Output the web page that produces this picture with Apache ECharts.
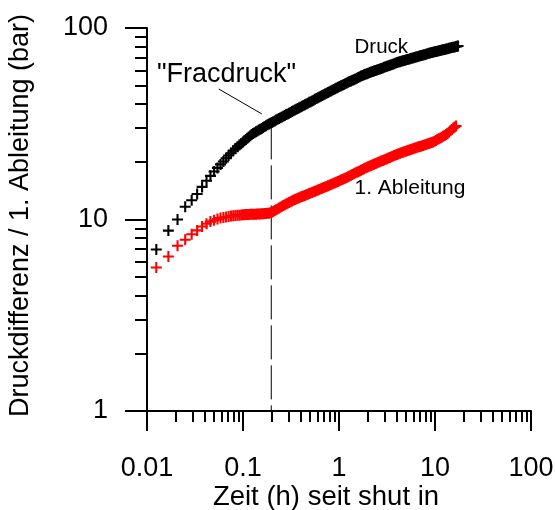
<!DOCTYPE html>
<html>
<head>
<meta charset="utf-8">
<script src="https://cdn.jsdelivr.net/npm/echarts@6/dist/echarts.min.js"></script>
<style>
html,body{margin:0;padding:0;background:#fff;}
#chart{width:555px;height:510px;}
</style>
</head>
<body>
<div id="chart"></div>
<script>
// ---- data ----
// first set of readings
const timeH = [0.0125, 0.0167, 0.0208, 0.025, 0.0292, 0.0333, 0.0375, 0.0417, 0.0458, 0.05, 0.0542, 0.0583, 0.0625, 0.0667, 0.0708, 0.075, 0.0792, 0.0833, 0.0875, 0.0917, 0.0958, 0.1,
  0.1072, 0.1148, 0.123, 0.1318, 0.1413, 0.1514, 0.1622, 0.1738, 0.1862, 0.1995, 0.2138, 0.2291, 0.2455, 0.263, 0.2818, 0.302, 0.3236, 0.3467, 0.3715, 0.3981,
  0.4266, 0.4571, 0.4898, 0.5248, 0.5623, 0.6026, 0.6457, 0.6918, 0.7413, 0.7943, 0.8511, 0.912, 0.9772, 1.047, 1.122, 1.202, 1.288, 1.38, 1.479, 1.585,
  1.698, 1.82, 1.95, 2.089, 2.239, 2.399, 2.57, 2.754, 2.951, 3.162, 3.388, 3.631, 3.89, 4.169, 4.467, 4.786, 5.129, 5.495, 5.888, 6.31, 6.761, 7.244, 7.762,
  8.318, 8.913, 9.55, 10.23, 10.96, 11.75, 12.59, 13.49, 14.45, 15.49, 16.6, 17.38];

const druck = [6.97, 8.75, 10.0, 11.66, 12.6, 13.6, 14.8, 15.95, 16.9, 17.8, 18.6, 19.4, 20.1, 20.9, 21.6, 22.2, 22.9, 23.5, 24.0, 24.5, 24.9, 25.4,
  26.2, 27.0, 27.8, 28.4, 29.0, 29.6, 30.2, 30.9, 31.5, 32.1, 32.7, 33.4, 34.0, 34.6, 35.3, 35.9, 36.6, 37.3, 38.0, 38.7,
  39.4, 40.1, 40.9, 41.6, 42.4, 43.2, 44.0, 44.8, 45.6, 46.4, 47.3, 48.1, 49.0, 49.9, 50.7, 51.6, 52.5, 53.3, 54.2, 55.1,
  56.1, 57.0, 57.7, 58.5, 59.2, 59.9, 60.7, 61.5, 62.3, 63.1, 63.9, 64.7, 65.6, 66.4, 67.0, 67.7, 68.4, 69.1, 69.8, 70.5, 71.2, 71.9, 72.6,
  73.4, 74.1, 74.7, 75.4, 76.0, 76.7, 77.3, 78.0, 78.7, 79.3, 80.0, 80.5];

const ableitung = [5.61, 6.41, 7.29, 7.84, 8.38, 8.77, 9.19, 9.51, 9.75, 9.91, 10.05, 10.17, 10.25, 10.31, 10.37, 10.42, 10.45, 10.48, 10.51, 10.53, 10.56, 10.58,
  10.62, 10.63, 10.65, 10.66, 10.67, 10.69, 10.72, 10.76, 10.79, 10.90, 11.13, 11.36, 11.60, 11.82, 12.05, 12.28, 12.51, 12.73, 12.90, 13.09,
  13.27, 13.46, 13.65, 13.85, 14.05, 14.26, 14.46, 14.68, 14.89, 15.11, 15.34, 15.57, 15.81, 16.06, 16.30, 16.59, 16.88, 17.17, 17.48, 17.78,
  18.09, 18.41, 18.73, 19.02, 19.31, 19.59, 19.88, 20.18, 20.47, 20.78, 21.09, 21.40, 21.72, 22.04, 22.34, 22.60, 22.87, 23.13, 23.40, 23.68, 23.95, 24.23, 24.51,
  24.80, 25.09, 25.38, 25.88, 26.40, 26.92, 27.46, 28.05, 29.04, 30.07, 30.8];

// second set of readings (between the first ones, where the marks are dense)
const timeH2 = [0.1035, 0.1109, 0.1189, 0.1274, 0.1365, 0.1462, 0.1567, 0.1679, 0.1799, 0.1928, 0.2065, 0.2213, 0.2371, 0.2541, 0.2723, 0.2917, 0.3126, 0.335, 0.3589, 0.3846,
  0.4121, 0.4416, 0.4732, 0.507, 0.5433, 0.5821, 0.6237, 0.6683, 0.7161, 0.7674, 0.8222, 0.881, 0.9441, 1.0116, 1.084, 1.161, 1.245, 1.334, 1.429, 1.531,
  1.641, 1.758, 1.884, 2.018, 2.163, 2.317, 2.483, 2.661, 2.851, 3.055, 3.273, 3.508, 3.758, 4.027, 4.315, 4.624, 4.955, 5.309, 5.689, 6.095,
  6.531, 6.998, 7.499, 8.035, 8.61, 9.226, 9.886, 10.59, 11.35, 12.16, 13.03, 13.96, 14.96, 16.03, 17.0];

const druck2 = [25.8, 26.6, 27.4, 28.1, 28.7, 29.3, 29.9, 30.55, 31.2, 31.8, 32.4, 33.05, 33.7, 34.3, 34.95, 35.6, 36.25, 36.95, 37.65, 38.35,
  39.05, 39.75, 40.5, 41.25, 42.0, 42.8, 43.6, 44.4, 45.2, 46.0, 46.85, 47.7, 48.55, 49.45, 50.3, 51.15, 52.05, 52.9, 53.75, 54.65,
  55.6, 56.55, 57.35, 58.1, 58.85, 59.55, 60.3, 61.1, 61.9, 62.7, 63.5, 64.3, 65.15, 66.0, 66.7, 67.35, 68.05, 68.75, 69.45, 70.15,
  70.85, 71.55, 72.25, 73.0, 73.75, 74.4, 75.05, 75.7, 76.35, 77.0, 77.65, 78.35, 79.0, 79.65, 80.25];

const ableitung2 = [10.60, 10.62, 10.64, 10.65, 10.66, 10.68, 10.70, 10.74, 10.77, 10.84, 11.01, 11.24, 11.48, 11.71, 11.93, 12.16, 12.39, 12.62, 12.81, 12.99,
  13.18, 13.36, 13.55, 13.75, 13.95, 14.15, 14.36, 14.57, 14.78, 15.0, 15.22, 15.45, 15.69, 15.93, 16.18, 16.44, 16.73, 17.02, 17.32, 17.63,
  17.93, 18.25, 18.57, 18.87, 19.16, 19.45, 19.73, 20.03, 20.32, 20.62, 20.93, 21.24, 21.56, 21.88, 22.19, 22.47, 22.73, 23.0, 23.26, 23.54,
  23.81, 24.09, 24.37, 24.65, 24.94, 25.23, 25.63, 26.14, 26.66, 27.19, 27.75, 28.54, 29.55, 30.43];

// "Fracdruck" marker (vertical dashed line) and its leader line
const fracTime = [0.197, 0.197];
const fracValue = [31, 1];
const leaderTime = [0.056, 0.157];
const leaderValue = [48.0, 35.6];

// tick values / labels
const xMajor = [0.01, 0.1, 1, 10, 100];
const xMinor = [0.02, 0.03, 0.04, 0.05, 0.06, 0.07, 0.08, 0.09,
  0.2, 0.3, 0.4, 0.5, 0.6, 0.7, 0.8, 0.9,
  2, 3, 4, 5, 6, 7, 8, 9,
  20, 30, 40, 50, 60, 70, 80, 90];
const yMajor = [1, 10, 100];
const yMinor = [2, 3, 4, 5, 6, 7, 8, 9, 20, 30, 40, 50, 60, 70, 80, 90];

const xTitle = 'Zeit (h) seit shut in';
const yTitle = 'Druckdifferenz / 1. Ableitung (bar)';
const labelFrac = '"Fracdruck"';
const labelDruck = 'Druck';
const labelAbl = '1. Ableitung';

// ---- chart ----
const FONT = '"Liberation Sans", Arial, Helvetica, sans-serif';
const zip = (xs, ys) => ys.map((v, i) => [xs[i], v]);
const fmt = v => String(parseFloat(Number(v).toPrecision(6)));
const plus = 'path://M4.05,0h1.9v4.05h4.05v1.9h-4.05v4.05h-1.9v-4.05h-4.05v-1.9h4.05z';

const chart = echarts.init(document.getElementById('chart'), null, {renderer: 'canvas'});

const baseAxisCommon = {
  type: 'log', logBase: 10,
  splitLine: {show: false},
  minorTick: {show: false},
  minorSplitLine: {show: false}
};

chart.setOption({
  animation: false,
  backgroundColor: '#fff',
  grid: {left: 147, right: 24, top: 28, bottom: 99, containLabel: false, outerBoundsMode: 'none'},
  xAxis: [
    Object.assign({}, baseAxisCommon, {
      min: 0.01, max: 100, position: 'bottom', offset: 0,
      axisLine: {show: true, lineStyle: {color: '#000', width: 2}},
      axisTick: {show: true, length: 20, inside: false, customValues: xMajor, lineStyle: {color: '#000', width: 2}},
      axisLabel: {show: true, customValues: xMajor, formatter: fmt, margin: 44,
        color: '#000', fontSize: 27, fontFamily: FONT},
      name: xTitle, nameLocation: 'middle', nameGap: 72, nameMoveOverlap: false,
      nameTextStyle: {color: '#000', fontSize: 27.5, fontFamily: FONT, padding: [0, 26, 0, 0]}
    }),
    Object.assign({}, baseAxisCommon, {
      min: 0.01, max: 100, position: 'bottom', offset: 0,
      axisLine: {show: false},
      axisTick: {show: true, length: 11, inside: false, customValues: xMinor, lineStyle: {color: '#000', width: 2}},
      axisLabel: {show: false}
    })
  ],
  yAxis: [
    Object.assign({}, baseAxisCommon, {
      min: 1, max: 100, position: 'left', offset: 0,
      axisLine: {show: true, lineStyle: {color: '#000', width: 2}},
      axisTick: {show: true, length: 22, inside: false, customValues: yMajor, lineStyle: {color: '#000', width: 2}},
      axisLabel: {show: true, customValues: yMajor, formatter: fmt, margin: 39,
        color: '#000', fontSize: 27, fontFamily: FONT},
      name: yTitle, nameLocation: 'middle', nameGap: 113, nameRotate: 90,
      nameTextStyle: {color: '#000', fontSize: 27, fontFamily: FONT, padding: [0, 0, 0, 8]}
    }),
    Object.assign({}, baseAxisCommon, {
      min: 1, max: 100, position: 'left', offset: 0,
      axisLine: {show: false},
      axisTick: {show: true, length: 12, inside: false, customValues: yMinor, lineStyle: {color: '#000', width: 2}},
      axisLabel: {show: false}
    })
  ],
  series: [
    {
      name: 'Druck', type: 'scatter', xAxisIndex: 0, yAxisIndex: 0,
      data: zip(timeH, druck).concat(zip(timeH2, druck2)),
      symbol: plus, symbolSize: 11,
      itemStyle: {color: '#000', opacity: 1},
      silent: true, z: 3
    },
    {
      name: '1. Ableitung', type: 'scatter', xAxisIndex: 0, yAxisIndex: 0,
      data: zip(timeH, ableitung).concat(zip(timeH2, ableitung2)),
      symbol: plus, symbolSize: 11,
      itemStyle: {color: '#ff0000', opacity: 1},
      silent: true, z: 3
    },
    {
      name: 'Fracdruck', type: 'line', xAxisIndex: 0, yAxisIndex: 0,
      data: zip(fracTime, fracValue),
      symbol: 'none', silent: true, z: 2,
      lineStyle: {color: '#000', width: 1, type: [34, 6], dashOffset: 0}
    },
    {
      name: 'leader', type: 'line', xAxisIndex: 0, yAxisIndex: 0,
      data: zip(leaderTime, leaderValue),
      symbol: 'none', silent: true, z: 2,
      lineStyle: {color: '#000', width: 1}
    }
  ],
  graphic: {elements: [
    {type: 'text', x: 157, y: 75, silent: true,
      style: {text: labelFrac, font: '27px ' + FONT, fill: '#000', align: 'left', verticalAlign: 'middle'}},
    {type: 'text', x: 354.5, y: 47.5, silent: true,
      style: {text: labelDruck, font: '20.5px ' + FONT, fill: '#000', align: 'left', verticalAlign: 'middle'}},
    {type: 'text', x: 354.5, y: 188.5, silent: true,
      style: {text: labelAbl, font: '21px ' + FONT, fill: '#000', align: 'left', verticalAlign: 'middle'}}
  ]}
});
</script>
</body>
</html>
